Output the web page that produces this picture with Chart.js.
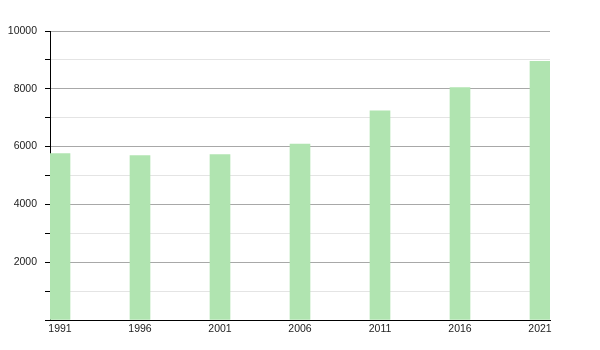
<!DOCTYPE html>
<html>
<head>
<meta charset="utf-8">
<script src="https://cdn.jsdelivr.net/npm/chart.js@4"></script>
<style>
  html, body { margin: 0; padding: 0; background: #fff; }
  #wrap { width: 600px; height: 350px; }
</style>
</head>
<body>
<div id="wrap"><canvas id="myChart" width="600" height="350"></canvas></div>
<script>
// Census years and population values
const years = [1991, 1996, 2001, 2006, 2011, 2016, 2021];
const population = [5760, 5690, 5720, 6090, 7240, 8040, 8950];
const yTicks = [2000, 4000, 6000, 8000, 10000];

const barColor = '#b0e4b0';

const points = years.map((y, i) => ({ x: y, y: population[i] }));

new Chart(document.getElementById('myChart'), {
    type: 'bar',
    data: {
        datasets: [{
            data: points,
            backgroundColor: barColor,
            borderWidth: 0,
            barThickness: 20
        }]
    },
    options: {
        responsive: false,
        animation: false,
        layout: { padding: { top: 31, right: 50, left: 0, bottom: 0 } },
        plugins: { legend: { display: false }, tooltip: { enabled: false } },
        scales: {
            x: {
                type: 'linear',
                offset: false,
                min: 1990.375,
                max: 2021.625,
                grid: { display: false, drawTicks: false },
                border: { color: '#000', width: 1 },
                afterBuildTicks: (scale) => {
                    scale.ticks = years.map(v => ({ value: v }));
                },
                afterFit: (scale) => { scale.height = 30; },
                ticks: {
                    autoSkip: false,
                    maxRotation: 0,
                    padding: 3,
                    color: '#222',
                    font: { family: 'Liberation Sans', size: 10.5 },
                    callback: (v) => String(v)
                }
            },
            y: {
                min: 0,
                max: 10000,
                grid: {
                    color: (ctx) => (ctx.tick && ctx.tick.value % 2000 === 0) ? '#a8a8a8' : '#e4e4e4',
                    tickColor: '#000',
                    tickLength: 5,
                    lineWidth: 1
                },
                border: { color: '#000', width: 1 },
                afterFit: (scale) => { scale.width = 50; },
                ticks: {
                    stepSize: 1000,
                    autoSkip: false,
                    padding: 8,
                    color: '#222',
                    font: { family: 'Liberation Sans', size: 10.5 },
                    callback: (v) => yTicks.includes(v) ? String(v) : ''
                }
            }
        }
    }
});
</script>
</body>
</html>
